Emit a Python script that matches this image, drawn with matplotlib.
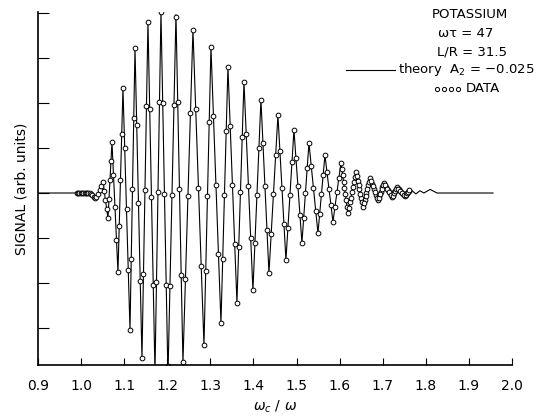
import matplotlib
matplotlib.use("Agg")
import matplotlib.pyplot as plt

# theory curve: turning points of the oscillation (omega_c/omega, signal in tick units)
theory_x = [0.900, 0.990, 1.020, 1.030, 1.036, 1.0508, 1.0624, 1.0717, 1.0856, 1.0972,
            1.1135, 1.1251, 1.1413, 1.1552, 1.1715, 1.1854, 1.2016, 1.2202, 1.2364,
            1.2596, 1.2852, 1.3014, 1.3246, 1.3408, 1.3617, 1.3780, 1.3988, 1.4174,
            1.4360, 1.4568, 1.4754, 1.4940, 1.5125, 1.5288, 1.5497, 1.5659, 1.5845,
            1.6030, 1.6193, 1.6378, 1.6541, 1.6703, 1.6889, 1.7028, 1.7213, 1.7329,
            1.7515, 1.7631, 1.7770, 1.7863, 1.7956, 1.810, 1.826, 1.956]
theory_y = [0.0, 0.0, 0.0, -0.05, -0.10, 0.24, -0.56, 1.13, -1.76, 2.33,
            -3.04, 3.22, -3.67, 3.80, -3.98, 4.02, -4.07, 3.96, -3.76,
            3.62, -3.38, 3.24, -2.89, 2.80, -2.44, 2.47, -2.16, 2.07,
            -1.78, 1.73, -1.49, 1.40, -1.11, 1.11, -0.89, 0.84, -0.64,
            0.67, -0.44, 0.47, -0.31, 0.33, -0.16, 0.22, -0.09, 0.13,
            -0.07, 0.09, -0.02, 0.05, 0.0, 0.08, 0.0, 0.0]

# measured points
data_x = [0.990, 0.993, 0.996, 0.999, 1.002, 1.005, 1.008, 1.011, 1.014, 1.017,
          1.020, 1.023, 1.026, 1.029, 1.032, 1.035,
          1.0397, 1.0434, 1.0471, 1.0508, 1.0537, 1.0566, 1.0595, 1.0624,
          1.0647, 1.0671, 1.0694, 1.0717, 1.0752, 1.0787, 1.0821, 1.0856,
          1.0885, 1.0914, 1.0943, 1.0972, 1.1013, 1.1054, 1.1094, 1.1135,
          1.1164, 1.1193, 1.1222, 1.1251, 1.1292, 1.1332, 1.1373, 1.1413,
          1.1448, 1.1483, 1.1517, 1.1552, 1.1593, 1.1634, 1.1674, 1.1715,
          1.1750, 1.1785, 1.1819, 1.1854, 1.1895, 1.1935, 1.1976, 1.2016,
          1.2063, 1.2109, 1.2156, 1.2202, 1.2243, 1.2283, 1.2324, 1.2364,
          1.2422, 1.2480, 1.2538, 1.2596, 1.2660, 1.2724, 1.2788, 1.2852,
          1.2893, 1.2933, 1.2974, 1.3014, 1.3072, 1.3130, 1.3188, 1.3246,
          1.3287, 1.3327, 1.3368, 1.3408, 1.3460, 1.3513, 1.3565, 1.3617,
          1.3658, 1.3699, 1.3739, 1.3780, 1.3832, 1.3884, 1.3936, 1.3988,
          1.4035, 1.4081, 1.4128, 1.4174, 1.4221, 1.4267, 1.4314, 1.4360,
          1.4412, 1.4464, 1.4516, 1.4568, 1.4615, 1.4661, 1.4708, 1.4754,
          1.4801, 1.4847, 1.4894, 1.4940, 1.4986, 1.5033, 1.5079, 1.5125,
          1.5166, 1.5207, 1.5247, 1.5288, 1.5340, 1.5393, 1.5445, 1.5497,
          1.5538, 1.5578, 1.5619, 1.5659, 1.5706, 1.5752, 1.5799, 1.5845,
          1.5891, 1.5938, 1.5984, 1.6030, 1.6071, 1.6112, 1.6152, 1.6193,
          1.6239, 1.6286, 1.6332, 1.6378, 1.6419, 1.6460, 1.6500, 1.6541,
          1.6582, 1.6622, 1.6663, 1.6703, 1.6750, 1.6796, 1.6843, 1.6889,
          1.6924, 1.6959, 1.6993, 1.7028, 1.7074, 1.7121, 1.7167, 1.7213,
          1.7242, 1.7271, 1.7300, 1.7329, 1.7376, 1.7422, 1.7469, 1.7515,
          1.7544, 1.7573, 1.7602]
data_y = [0.0, 0.0, 0.0, 0.0, 0.0, 0.0, 0.0, 0.0, 0.0, 0.0,
          0.0, -0.02, -0.05, -0.08, -0.10, -0.08,
          -0.015, 0.07, 0.155, 0.24, 0.04, -0.16, -0.36, -0.56,
          -0.14, 0.285, 0.71, 1.13, 0.41, -0.315, -1.04, -1.76,
          -0.74, 0.285, 1.31, 2.33, 0.99, -0.355, -1.70, -3.04,
          -1.475, 0.09, 1.655, 3.22, 1.50, -0.225, -1.95, -3.67,
          -1.80, 0.065, 1.93, 3.80, 1.855, -0.09, -2.035, -3.98,
          -1.98, 0.02, 2.02, 4.02, 2.0, -0.025, -2.05, -3.85,
          -2.06, -0.055, 1.95, 3.90, 2.03, 0.10, -1.83, -3.76,
          -1.915, -0.07, 1.775, 3.62, 1.87, 0.12, -1.63, -3.38,
          -1.725, -0.07, 1.585, 3.24, 1.71, 0.175, -1.36, -2.89,
          -1.47, -0.045, 1.38, 2.80, 1.49, 0.18, -1.13, -2.44,
          -1.21, 0.015, 1.24, 2.47, 1.31, 0.155, -1.0, -2.16,
          -1.10, -0.045, 1.01, 2.07, 1.11, 0.145, -0.82, -1.78,
          -0.90, -0.025, 0.85, 1.73, 0.925, 0.12, -0.685, -1.49,
          -0.77, -0.045, 0.68, 1.40, 0.77, 0.145, -0.48, -1.11,
          -0.555, 0.0, 0.555, 1.11, 0.61, 0.11, -0.39, -0.89,
          -0.46, -0.025, 0.41, 0.84, 0.47, 0.10, -0.27, -0.64,
          -0.31, 0.015, 0.34, 0.67, 0.39, 0.115, -0.16, -0.44,
          -0.21, 0.015, 0.24, 0.47, 0.275, 0.08, -0.115, -0.31,
          -0.15, 0.01, 0.17, 0.33, 0.21, 0.085, -0.04, -0.16,
          -0.065, 0.03, 0.125, 0.22, 0.14, 0.065, -0.01, -0.09,
          -0.035, 0.02, 0.075, 0.13, 0.08, 0.03, -0.02, -0.07,
          -0.03, 0.01, 0.05]

# extra points where the measurements were taken more densely (tail of the pattern)
tail_x = [1.6050, 1.6091, 1.6132, 1.6173, 1.6216, 1.6262, 1.6309, 1.6355,
          1.6398, 1.6439, 1.6480, 1.6521, 1.6561, 1.6602, 1.6642, 1.6683,
          1.6726, 1.6773, 1.6819, 1.6866, 1.6906, 1.6941, 1.6976, 1.7011,
          1.7051, 1.7097, 1.7144, 1.7190, 1.7228, 1.7257, 1.7286, 1.7315,
          1.7352, 1.7399, 1.7445, 1.7492, 1.7530, 1.7559, 1.7588, 1.7617]
tail_y = [0.53, 0.25, -0.02, -0.30, -0.33, -0.10, 0.13, 0.36,
          0.37, 0.18, -0.02, -0.21, -0.23, -0.07, 0.09, 0.25,
          0.27, 0.15, 0.02, -0.10, -0.11, -0.02, 0.08, 0.17,
          0.18, 0.10, 0.03, -0.05, -0.06, -0.01, 0.05, 0.10,
          0.10, 0.05, 0.0, -0.05, -0.05, -0.01, 0.03, 0.07]

x_ticks = [0.9, 1.0, 1.1, 1.2, 1.3, 1.4, 1.5, 1.6, 1.7, 1.8, 1.9, 2.0]
x_ticklabels = ["0.9", "1.0", "1.1", "1.2", "1.3", "1.4", "1.5", "1.6", "1.7", "1.8", "1.9", "2.0"]
y_ticks = [-3, -2, -1, 0, 1, 2, 3, 4]

plt.rcParams['font.family'] = ['DejaVu Sans']

fig = plt.figure(figsize=(5.49, 4.17), dpi=100)
ax = fig.add_axes([0.0692, 0.1247, 0.8634, 0.8465])

circle_style = dict(linestyle='none', marker='o', markersize=3.4,
                    markerfacecolor='white', markeredgecolor='black', markeredgewidth=0.7)

ax.plot(theory_x, theory_y, color='black', lw=0.8)
ax.plot(data_x, data_y, **circle_style)
ax.plot(tail_x, tail_y, **circle_style)

ax.set_xlim(0.9, 2.0)
ax.set_ylim(-3.82, 4.02)
ax.set_xticks(x_ticks)
ax.set_xticklabels(x_ticklabels)
ax.set_yticks(y_ticks)
ax.set_yticklabels([])
ax.tick_params(axis='both', direction='in', labelsize=10)
ax.tick_params(axis='x', length=5, pad=10)
ax.tick_params(axis='y', length=8)
for s in ['top', 'right']:
    ax.spines[s].set_visible(False)
for s in ['left', 'bottom']:
    ax.spines[s].set_linewidth(1.2)

ax.set_xlabel(r'$\omega_c\ /\ \omega$', fontsize=10, labelpad=4)
ax.set_ylabel('SIGNAL (arb. units)', fontsize=10, labelpad=3)

# key in the upper right corner
tr = ax.transAxes
ax.text(0.911, 0.992, 'POTASSIUM', transform=tr, ha='center', va='center', fontsize=9.5)
ax.text(0.903, 0.940, 'ωτ = 47', transform=tr, ha='center', va='center', fontsize=9.5)
ax.text(0.916, 0.887, 'L/R = 31.5', transform=tr, ha='center', va='center', fontsize=9.5)
ax.plot([0.650, 0.753], [0.836, 0.836], transform=tr, color='black', lw=0.8, clip_on=False)
ax.text(0.759, 0.836, 'theory  A$_2$ = −0.025', transform=tr, ha='left', va='center', fontsize=9.5)
ax.plot([0.842, 0.857, 0.871, 0.886], [0.782] * 4, transform=tr, linestyle='none',
        marker='o', markersize=3.0, markerfacecolor='white', markeredgecolor='black',
        markeredgewidth=0.7, clip_on=False)
ax.text(0.903, 0.782, 'DATA', transform=tr, ha='left', va='center', fontsize=9.5)

fig.savefig('out.png', dpi=100)
